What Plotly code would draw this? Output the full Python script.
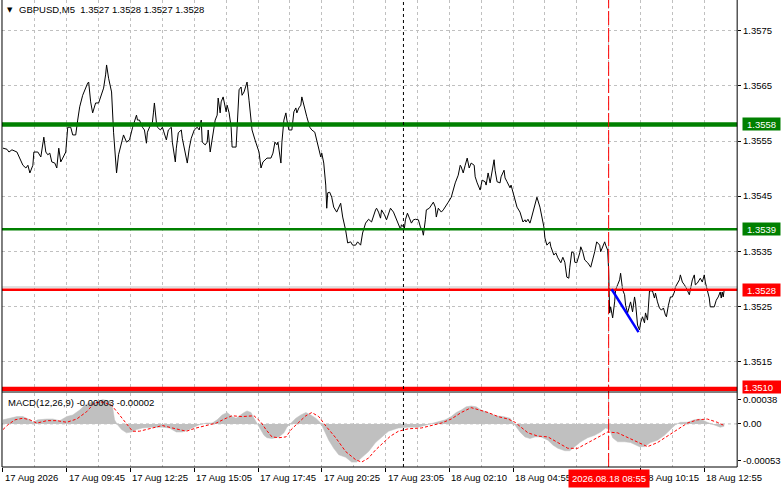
import plotly.graph_objects as go

# ---------------- DATA ----------------
# bar index (M5 bars from the first visible bar) and close prices
bars = [
    0, 2, 3, 4.5, 7, 8.5, 10, 11.5, 12.5, 13.5,
    15, 15.5, 17.5, 19, 20, 20.5, 21.5, 22.5, 23.5, 24.5,
    26, 27, 28, 29, 30, 31.5, 32.5, 34, 35, 36.5,
    37.5, 38.5, 40, 41.5, 42.5, 43, 44, 45, 46.5, 48,
    49.5, 50.5, 51.5, 52, 53, 54.5, 55.5, 56.5, 57, 58,
    59.5, 60.5, 62, 63.5, 65, 66, 67, 67.5, 68.5, 70,
    71, 72, 72.5, 74, 75, 75.5, 76, 77, 77.5, 79,
    80, 82, 83, 84.5, 85, 86.5, 87, 88, 89.5, 90,
    91.5, 92.5, 93.5, 94.5, 96, 97.5, 98.5, 99.5, 100, 101.5,
    102.5, 103, 104, 105, 106.5, 107.5, 108, 109, 109.5, 110.5,
    112, 112.5, 113.5, 114.5, 115, 117, 117.5, 118.5, 119.5, 120,
    121, 122.5, 123.5, 124.5, 125, 126.5, 127.5, 128.5, 129.5, 130.5,
    132.5, 134.5, 135.5, 136.5, 137.5, 138, 139.5, 140, 141, 142,
    142.5, 143.5, 145, 146, 147, 147.5, 148.5, 149.5, 150, 151.5,
    152.5, 154, 155, 156.5, 157.5, 158.5, 159.5, 160, 161, 162,
    162.5, 163, 164, 165, 166, 167.5, 168.5, 169.5, 170.5, 172,
    173, 174.5, 175.5, 177, 178, 179.5, 180.5, 182, 183.5, 185,
    187, 187.5, 188.5, 189.5, 190, 191.5, 192.5, 193.5, 194.5, 196,
    197.5, 199.5, 200, 201.5, 202, 203, 204, 205, 206, 207,
    208.5, 209.5, 210.5, 211, 212, 212.5, 214, 215, 216, 217,
    217.5, 218.5, 220, 221, 222, 223.5, 225, 226, 227, 228.5,
    229.5, 230, 231, 232, 233, 234, 235, 236.5, 237, 238,
    239.5, 240.5, 242, 242.5, 243.5, 244.5, 245.5, 246.5, 247, 248,
    249.5, 250, 251.5, 252, 253, 254.5, 255, 256, 257, 258,
    259.5, 260, 261, 262, 262.5, 263.5, 264.5, 265, 266, 267,
    268, 269.5, 270.5, 271.5, 272, 273, 274.5, 275, 276.5, 277.5,
    278.5, 280, 281, 282, 283, 284, 284.5, 285.5, 286.5, 287,
    288, 289.5, 290, 291, 292, 293.5, 295, 296, 297, 298,
    299.5, 300, 301, 302, 302.5, 303.5, 304, 304.5, 305, 306,
    307, 307.5, 308.5, 309.5, 310, 311, 312, 312.5, 313.5, 314.5,
    315, 316, 317, 317.5, 318.5, 319.5, 320, 321, 322, 322.5,
    323.5, 324.5, 325, 326, 327, 327.5, 328.5, 329.5, 330.5, 331.5,
    332.5, 333, 334, 335, 336, 337, 337.5, 338.5, 339.5, 340,
    341, 342, 343, 344.5, 345, 346, 347, 347.5, 348.5, 349.5,
    350, 351, 352, 352.5, 353.5, 354.5, 355, 356.5, 357, 358,
    359, 360, 360.5, 361, 361.5, 362,
]
close = [
    1.35537, 1.35535, 1.35530, 1.35534, 1.35530, 1.35519, 1.35506, 1.35501, 1.35506, 1.35492,
    1.35506, 1.35530, 1.35530, 1.35521, 1.35548, 1.35557, 1.35530, 1.35525, 1.35528, 1.35512,
    1.35510, 1.35501, 1.35537, 1.35512, 1.35519, 1.35530, 1.35575, 1.35575, 1.35561, 1.35561,
    1.35588, 1.35612, 1.35633, 1.35648, 1.35655, 1.35657, 1.35621, 1.35601, 1.35619, 1.35619,
    1.35633, 1.35646, 1.35670, 1.35688, 1.35664, 1.35639, 1.35566, 1.35525, 1.35492, 1.35525,
    1.35548, 1.35561, 1.35548, 1.35552, 1.35574, 1.35584, 1.35597, 1.35588, 1.35588, 1.35575,
    1.35570, 1.35546, 1.35566, 1.35579, 1.35584, 1.35601, 1.35619, 1.35584, 1.35575, 1.35570,
    1.35575, 1.35552, 1.35570, 1.35575, 1.35548, 1.35512, 1.35537, 1.35565, 1.35570, 1.35555,
    1.35530, 1.35510, 1.35537, 1.35555, 1.35570, 1.35575, 1.35570, 1.35588, 1.35548, 1.35543,
    1.35548, 1.35570, 1.35530, 1.35552, 1.35588, 1.35597, 1.35628, 1.35601, 1.35621, 1.35630,
    1.35603, 1.35615, 1.35601, 1.35575, 1.35539, 1.35539, 1.35583, 1.35643, 1.35648, 1.35633,
    1.35639, 1.35657, 1.35624, 1.35594, 1.35570, 1.35552, 1.35539, 1.35530, 1.35501, 1.35512,
    1.35519, 1.35519, 1.35528, 1.35548, 1.35543, 1.35548, 1.35510, 1.35548, 1.35588, 1.35601,
    1.35588, 1.35570, 1.35570, 1.35603, 1.35610, 1.35601, 1.35610, 1.35615, 1.35630, 1.35606,
    1.35594, 1.35575, 1.35570, 1.35566, 1.35552, 1.35537, 1.35521, 1.35528, 1.35510, 1.35470,
    1.35428, 1.35456, 1.35457, 1.35448, 1.35430, 1.35421, 1.35428, 1.35437, 1.35412, 1.35388,
    1.35365, 1.35367, 1.35361, 1.35361, 1.35367, 1.35361, 1.35383, 1.35401, 1.35408, 1.35403,
    1.35425, 1.35428, 1.35421, 1.35410, 1.35425, 1.35416, 1.35407, 1.35419, 1.35428, 1.35421,
    1.35407, 1.35390, 1.35398, 1.35392, 1.35407, 1.35419, 1.35410, 1.35401, 1.35407, 1.35408,
    1.35407, 1.35394, 1.35388, 1.35379, 1.35407, 1.35425, 1.35428, 1.35434, 1.35439, 1.35430,
    1.35412, 1.35428, 1.35421, 1.35425, 1.35430, 1.35439, 1.35448, 1.35461, 1.35474, 1.35488,
    1.35506, 1.35503, 1.35492, 1.35506, 1.35519, 1.35501, 1.35510, 1.35506, 1.35485, 1.35474,
    1.35461, 1.35479, 1.35476, 1.35470, 1.35492, 1.35474, 1.35497, 1.35516, 1.35497, 1.35476,
    1.35474, 1.35485, 1.35497, 1.35483, 1.35476, 1.35465, 1.35470, 1.35456, 1.35439, 1.35430,
    1.35421, 1.35416, 1.35403, 1.35407, 1.35403, 1.35408, 1.35401, 1.35407, 1.35421, 1.35437,
    1.35448, 1.35430, 1.35410, 1.35394, 1.35374, 1.35361, 1.35367, 1.35358, 1.35343, 1.35347,
    1.35338, 1.35329, 1.35339, 1.35330, 1.35303, 1.35301, 1.35321, 1.35349, 1.35347, 1.35330,
    1.35329, 1.35347, 1.35358, 1.35349, 1.35334, 1.35329, 1.35321, 1.35334, 1.35349, 1.35367,
    1.35361, 1.35349, 1.35358, 1.35367, 1.35361, 1.35352, 1.35316, 1.35238, 1.35249, 1.35229,
    1.35258, 1.35280, 1.35289, 1.35298, 1.35310, 1.35280, 1.35271, 1.35252, 1.35238, 1.35249,
    1.35258, 1.35240, 1.35267, 1.35256, 1.35216, 1.35207, 1.35220, 1.35231, 1.35220, 1.35238,
    1.35225, 1.35278, 1.35278, 1.35278, 1.35265, 1.35274, 1.35258, 1.35247, 1.35243, 1.35247,
    1.35234, 1.35231, 1.35252, 1.35267, 1.35267, 1.35276, 1.35285, 1.35292, 1.35298, 1.35307,
    1.35294, 1.35289, 1.35283, 1.35271, 1.35283, 1.35298, 1.35307, 1.35289, 1.35292, 1.35298,
    1.35301, 1.35294, 1.35307, 1.35294, 1.35280, 1.35265, 1.35249, 1.35249, 1.35249, 1.35261,
    1.35267, 1.35276, 1.35265, 1.35276, 1.35267, 1.35280,
]
assert len(bars) == len(close)

# MACD(12,26,9) main (histogram) and signal
hist_bars = [
    0, 3.5, 7, 10, 13.5, 15, 17.5, 22, 25, 28.5,
    32, 35, 38.5, 41, 43.5, 47, 50, 53.5, 55, 56,
    57.5, 59.5, 62, 64.5, 67, 70, 75, 80, 83.5, 87,
    90, 93.5, 96, 98.5, 102, 105, 107.5, 110, 112.5, 115,
    117, 118.5, 121, 122.5, 124.5, 126, 127.5, 129.5, 131, 132.5,
    135, 138.5, 141, 142.5, 144.5, 147, 149.5, 152, 154.5, 157,
    159.5, 161, 163.5, 166, 168.5, 172, 175, 177.5, 180, 183.5,
    187, 190, 193.5, 198.5, 203.5, 208.5, 213.5, 217, 222, 225,
    227.5, 230, 232.5, 235, 237.5, 240, 243.5, 247, 251, 254.5,
    257, 259.5, 262, 264.5, 267, 270, 273.5, 276, 278.5, 282,
    284.5, 287, 290, 293.5, 297, 300, 302.5, 304.5, 306, 308.5,
    312, 315, 319.5, 322, 325, 328.5, 332, 335, 337.5, 340,
    343.5, 347, 350, 353.5, 357, 360, 362,
]
hist_vals = [
    0.00005, 0.00007, 0.00009, 0.00009, 0.00005, 0.00002, 0.00005, 0.00006, 0.00006, 0.00004,
    0.00009, 0.00011, 0.00017, 0.00023, 0.00026, 0.00027, 0.00030, 0.00028, 0.00021, 0.00005,
    -0.00001, -0.00007, -0.00011, -0.00010, -0.00007, -0.00005, -0.00004, -0.00004, -0.00005, -0.00010,
    -0.00010, -0.00007, -0.00004, -0.00001, 0.00001, 0.00001, 0.00005, 0.00011, 0.00014, 0.00009,
    0.00007, 0.00010, 0.00014, 0.00016, 0.00014, 0.00007, 0.00001, -0.00007, -0.00014, -0.00017,
    -0.00018, -0.00016, -0.00011, -0.00004, 0.00001, 0.00007, 0.00011, 0.00014, 0.00011, 0.00007,
    0.00001, -0.00007, -0.00020, -0.00030, -0.00038, -0.00041, -0.00047, -0.00047, -0.00042, -0.00034,
    -0.00023, -0.00016, -0.00009, -0.00005, -0.00004, -0.00004, -0.00001, 0.00002, 0.00005, 0.00009,
    0.00014, 0.00017, 0.00021, 0.00022, 0.00021, 0.00017, 0.00014, 0.00010, 0.00009, 0.00007,
    -0.00001, -0.00010, -0.00016, -0.00018, -0.00016, -0.00016, -0.00020, -0.00026, -0.00030, -0.00033,
    -0.00033, -0.00028, -0.00022, -0.00017, -0.00014, -0.00010, -0.00005, -0.00007, -0.00017, -0.00022,
    -0.00022, -0.00023, -0.00028, -0.00028, -0.00023, -0.00020, -0.00014, -0.00007, -0.00001, 0.00002,
    0.00002, 0.00005, 0.00006, 0.00002, -0.00001, -0.00004, -0.00003,
]
assert len(hist_bars) == len(hist_vals)

sig_bars = [
    0, 2.5, 6, 10, 13.5, 17, 22, 27, 32, 37,
    42, 46, 50, 54.5, 57.5, 62, 65, 68.5, 73.5, 80,
    85, 92, 97, 102, 107, 112, 115, 120, 126, 129.5,
    132, 135, 138.5, 142, 145, 148.5, 152, 155, 158.5, 162.5,
    167, 172, 177, 180, 183.5, 187, 192, 194.5, 198.5, 203.5,
    210, 215, 220, 225, 230, 235, 239.5, 243.5, 248.5, 253.5,
    257, 260, 263.5, 268.5, 273.5, 278.5, 283.5, 288.5, 293.5, 298.5,
    303.5, 308.5, 313.5, 318.5, 323.5, 328.5, 333.5, 338.5, 343.5, 348.5,
    353.5, 358.5, 362,
]
sig_vals = [
    -0.00007, -0.00001, 0.00005, 0.00007, 0.00005, 0.00001, 0.00004, 0.00004, 0.00002, 0.00006,
    0.00015, 0.00026, 0.00027, 0.00023, 0.00014, 0.00001, -0.00009, -0.00009, -0.00006, -0.00002,
    -0.00005, -0.00009, -0.00005, -0.00002, 0.00001, 0.00007, 0.00010, 0.00009, 0.00010, 0.00002,
    -0.00007, -0.00016, -0.00017, -0.00016, -0.00006, 0.00002, 0.00010, 0.00014, 0.00009, -0.00004,
    -0.00017, -0.00034, -0.00044, -0.00047, -0.00042, -0.00032, -0.00020, -0.00015, -0.00009, -0.00006,
    -0.00005, -0.00002, 0.00001, 0.00006, 0.00014, 0.00020, 0.00017, 0.00014, 0.00009, 0.00006,
    0.00002, -0.00004, -0.00011, -0.00015, -0.00016, -0.00023, -0.00030, -0.00030, -0.00023, -0.00016,
    -0.00010, -0.00011, -0.00017, -0.00023, -0.00028, -0.00023, -0.00015, -0.00007, 0.00001, 0.00005,
    0.00006, 0.00002, -0.00002,
]
assert len(sig_bars) == len(sig_vals)

green_levels = [1.3558, 1.3539]
green_widths = [4.5, 2.5]
red_levels = [1.3528, 1.3510]
red_widths = [2.5, 4.5]
bid_price = 1.35285
trend_bars = [305.5, 319]
trend_prices = [1.35281, 1.35203]
day_sep_bar = 201
cursor_bar = 304
cursor_text = "2026.08.18 08:55"

xtick_bars = [0, 32, 64, 96, 128, 160, 192, 224, 256, 320, 352]
xtick_text = ["17 Aug 2026", "17 Aug 09:45", "17 Aug 12:25", "17 Aug 15:05",
              "17 Aug 17:45", "17 Aug 20:25", "17 Aug 23:05", "18 Aug 02:10",
              "18 Aug 04:55", "18 Aug 10:15", "18 Aug 12:55"]

price_range = [1.350963, 1.358059]
macd_range = [-0.00053, 0.00038]
macd_tick_pos = [0.00030, 0.0, -0.00045]
macd_tick_text = ["0.00038", "0.00", "-0.00053"]
title_text = "GBPUSD,M5\u00a0\u00a01.3527 1.3528 1.3527 1.3528"
macd_title = "MACD(12,26,9) -0.00003 -0.00002"

# ---------------- LAYOUT HELPERS ----------------
W, H = 781, 489
FONT = "Liberation Sans"
FS = 9.5
GRID = "#C0C0C0"
GDASH = "3px,3px"


def px(p):
    return p / W


def py(p):
    return 1 - p / H


x_dom = [px(2), px(740)]
x_rng = [-0.5, 368.5]

fig = go.Figure()
fig.add_trace(go.Scatter(x=bars, y=close, mode="lines",
                         line=dict(color="black", width=1),
                         xaxis="x", yaxis="y", hoverinfo="skip"))
fig.add_trace(go.Scatter(x=hist_bars, y=hist_vals, mode="lines", fill="tozeroy",
                         fillcolor="#C0C0C0", line=dict(color="#C0C0C0", width=0.5),
                         xaxis="x2", yaxis="y2", hoverinfo="skip"))
fig.add_trace(go.Scatter(x=sig_bars, y=sig_vals, mode="lines",
                         line=dict(color="#FF0000", width=1, dash="3px,2px"),
                         xaxis="x2", yaxis="y2", hoverinfo="skip"))

shapes = []
# MACD zero grid line
shapes.append(dict(type="line", xref="x2 domain", x0=0, x1=1, yref="y2", y0=0, y1=0,
                   line=dict(color=GRID, width=1, dash=GDASH), layer="below"))
# horizontal levels
shapes.append(dict(type="line", xref="x domain", x0=0, x1=1, yref="y",
                   y0=bid_price, y1=bid_price, line=dict(color="#C0C0C0", width=1)))
for lv, wd in zip(green_levels, green_widths):
    shapes.append(dict(type="line", xref="x domain", x0=0, x1=1, yref="y", y0=lv, y1=lv,
                       line=dict(color="#008000", width=wd)))
for lv, wd in zip(red_levels, red_widths):
    shapes.append(dict(type="line", xref="x domain", x0=0, x1=1, yref="y", y0=lv, y1=lv,
                       line=dict(color="#FF0000", width=wd)))
# trend segment
shapes.append(dict(type="line", xref="x", yref="y", x0=trend_bars[0], x1=trend_bars[1],
                   y0=trend_prices[0], y1=trend_prices[1],
                   line=dict(color="#0000FF", width=2.5)))
# vertical separators
shapes.append(dict(type="line", xref="x", x0=day_sep_bar, x1=day_sep_bar, yref="paper",
                   y0=py(467), y1=1, line=dict(color="black", width=1, dash="3px,3px")))
shapes.append(dict(type="line", xref="x", x0=cursor_bar, x1=cursor_bar, yref="paper",
                   y0=py(467), y1=1, line=dict(color="#FF0000", width=1, dash="14px,3px")))
# frames
frame = dict(color="black", width=1)
shapes.append(dict(type="line", xref="paper", yref="paper", x0=px(2), x1=px(2), y0=py(467), y1=1, line=frame))
shapes.append(dict(type="line", xref="paper", yref="paper", x0=px(740), x1=px(740), y0=py(467), y1=1, line=frame))
shapes.append(dict(type="line", xref="paper", yref="paper", x0=px(2), x1=px(740), y0=py(392), y1=py(392), line=frame))
shapes.append(dict(type="line", xref="paper", yref="paper", x0=px(2), x1=px(740), y0=py(467), y1=py(467), line=frame))

ann = []
ann.append(dict(text="\u25bc", xref="paper", yref="paper", x=px(5), y=py(10),
                xanchor="left", yanchor="middle", showarrow=False,
                font=dict(family="DejaVu Sans", size=7, color="black")))
ann.append(dict(text=title_text, xref="paper", yref="paper", x=px(17), y=py(10),
                xanchor="left", yanchor="middle", showarrow=False,
                font=dict(family=FONT, size=FS, color="black")))
ann.append(dict(text=macd_title, xref="paper", yref="paper", x=px(6), y=py(402),
                xanchor="left", yanchor="middle", showarrow=False,
                font=dict(family=FONT, size=FS, color="black")))
for lv in green_levels:
    ann.append(dict(text=f"{lv:.4f}", xref="paper", yref="y", x=px(742), y=lv,
                    xanchor="left", yanchor="middle", showarrow=False, bgcolor="#008000",
                    borderpad=1, width=35, height=10, align="center", xshift=3,
                    font=dict(family=FONT, size=FS, color="white")))
for i, lv in enumerate(red_levels):
    ann.append(dict(text=f"{lv:.4f}", xref="paper", yref="y", x=px(742), y=lv,
                    xanchor="left", yanchor="middle", showarrow=False, bgcolor="#FF0000",
                    borderpad=1, width=42 if i == 1 else 35, height=10,
                    align="left" if i == 1 else "center", xshift=3,
                    yshift=2 if i == 1 else 0,
                    font=dict(family=FONT, size=FS, color="white")))
for b, t in zip(xtick_bars, xtick_text):
    ann.append(dict(text=t, xref="x2", yref="paper", x=b, y=py(477.5),
                    xanchor="left", yanchor="middle", showarrow=False, xshift=0,
                    font=dict(family=FONT, size=FS, color="black")))
ann.append(dict(text=cursor_text, xref="x2", yref="paper", x=cursor_bar, y=py(478),
                xanchor="center", yanchor="middle", showarrow=False, bgcolor="#FF0000",
                borderpad=3, font=dict(family=FONT, size=FS, color="white")))

fig.update_layout(
    width=W, height=H, margin=dict(l=0, r=0, t=0, b=0),
    paper_bgcolor="white", plot_bgcolor="white", showlegend=False, hovermode=False,
    xaxis=dict(domain=x_dom, range=x_rng, anchor="y", showticklabels=False, ticks="",
               showgrid=True, tick0=0, dtick=16, gridcolor=GRID, griddash=GDASH,
               gridwidth=1, zeroline=False, showline=False),
    yaxis=dict(domain=[py(391), 1], range=price_range, side="right", anchor="x",
               tick0=1.3515, dtick=0.001, tickformat=".4f", ticks="outside", ticklen=3,
               tickcolor="black", showgrid=True, gridcolor=GRID, griddash=GDASH,
               zeroline=False, showline=False,
               tickfont=dict(family=FONT, size=FS, color="black")),
    xaxis2=dict(domain=x_dom, range=x_rng, anchor="y2", tickmode="array",
                tickvals=xtick_bars, showticklabels=False, ticks="outside", ticklen=4,
                tickcolor="black", showgrid=False, zeroline=False, showline=False,
                minor=dict(tick0=0, dtick=16, showgrid=True, gridcolor=GRID,
                           griddash=GDASH, ticks="")),
    yaxis2=dict(domain=[py(467), py(393)], range=macd_range, side="right", anchor="x2",
                tickmode="array", tickvals=macd_tick_pos, ticktext=macd_tick_text,
                ticks="outside", ticklen=3, tickcolor="black", showgrid=False,
                zeroline=False, showline=False,
                tickfont=dict(family=FONT, size=FS, color="black")),
    shapes=shapes, annotations=ann,
)

fig.write_html("out.html", config={"displayModeBar": False},
               post_script="document.body.style.margin='0';document.body.style.overflow='hidden';")
